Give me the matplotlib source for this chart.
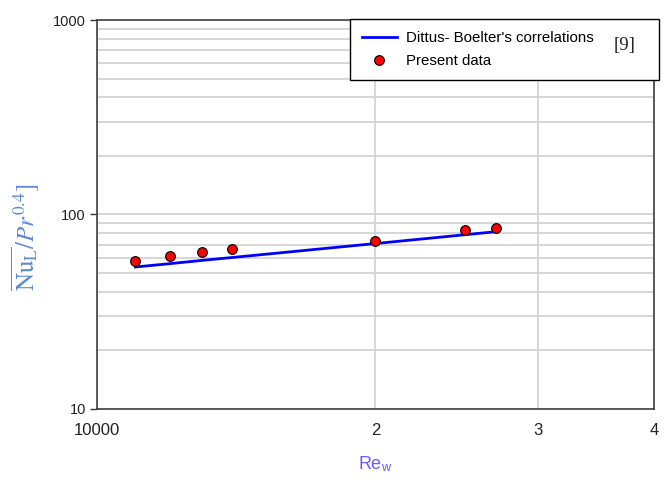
import matplotlib
matplotlib.use('Agg')
import matplotlib.pyplot as plt
from matplotlib.ticker import FixedLocator, FixedFormatter, NullFormatter

# Re_w values and measured Nu_L / Pr^0.4
re_data = [11000, 12000, 13000, 14000, 20000, 25000, 27000]
nu_data = [57.5, 61.4, 64.4, 66.7, 73.3, 83.3, 85.5]

# Dittus-Boelter correlation line
re_line = [11000, 12000, 13000, 14000, 20000, 25000, 27000]
nu_line = [53.7, 55.9, 58.1, 60.1, 70.9, 78.7, 81.6]

x_ticks = [10000, 20000, 30000, 40000]
x_labels = ['10000', '2', '3', '4']
y_ticks = [10, 100, 1000]
y_labels = ['10', '100', '1000']

plt.rcParams['font.family'] = ['Liberation Sans', 'DejaVu Sans']
plt.rcParams['mathtext.fontset'] = 'stix'

fig = plt.figure(figsize=(6.68, 4.82), dpi=100)
ax = fig.add_axes([0.1452, 0.1515, 0.8338, 0.807])

ax.set_xscale('log')
ax.set_yscale('log')
ax.set_xlim(10000, 40000)
ax.set_ylim(10, 1000)

# grid
ax.yaxis.grid(True, which='both', color='#d0d0d0', lw=1.2)
ax.xaxis.grid(True, which='major', color='#d0d0d0', lw=1.2)
ax.set_axisbelow(True)

ax.xaxis.set_major_locator(FixedLocator(x_ticks))
ax.xaxis.set_major_formatter(FixedFormatter(x_labels))
ax.xaxis.set_minor_locator(FixedLocator([]))
ax.xaxis.set_minor_formatter(NullFormatter())
ax.yaxis.set_major_locator(FixedLocator(y_ticks))
ax.yaxis.set_major_formatter(FixedFormatter(y_labels))
ax.yaxis.set_minor_formatter(NullFormatter())

ax.tick_params(axis='y', which='major', length=5, width=1, color='#333333',
               labelsize=10.5, labelcolor='#222222', pad=3)
ax.tick_params(axis='y', which='minor', length=0)
ax.tick_params(axis='x', which='major', length=0, labelsize=12,
               labelcolor='#222222', pad=10)

for s in ax.spines.values():
    s.set_color('#404040')
    s.set_linewidth(1.2)

ax.plot(re_line, nu_line, color='#0000ff', lw=2,
        label="Dittus- Boelter's correlations", zorder=3)
ax.plot(re_data, nu_data, 'o', color='red', markeredgecolor='black',
        markeredgewidth=0.8, markersize=7, label='Present data', zorder=4)

leg = fig.legend(loc='upper left', bbox_to_anchor=(0.524, 0.836, 0.4625, 0.124),
                 mode='expand', fontsize=10.8, frameon=True, fancybox=False,
                 edgecolor='black', framealpha=1, borderaxespad=0,
                 handlelength=2.3, handletextpad=0.6, labelspacing=0.6,
                 borderpad=0.8)
leg.get_frame().set_linewidth(1.0)
fig.text(0.935, 0.905, '[9]', fontsize=13.5, family='Liberation Serif',
         ha='center', va='center', color='#222222', zorder=10)

ax.set_xlabel('Re$_\\mathregular{w}$', color='#6a5cff', fontsize=13, labelpad=12)
ax.set_ylabel(r'$\overline{\mathrm{Nu}_{\mathrm{L}}}/Pr^{0.4}]$', color='#5b8bd6',
              fontsize=18)
ax.yaxis.set_label_coords(-0.1, 0.44)

fig.savefig('out.png', dpi=100)
